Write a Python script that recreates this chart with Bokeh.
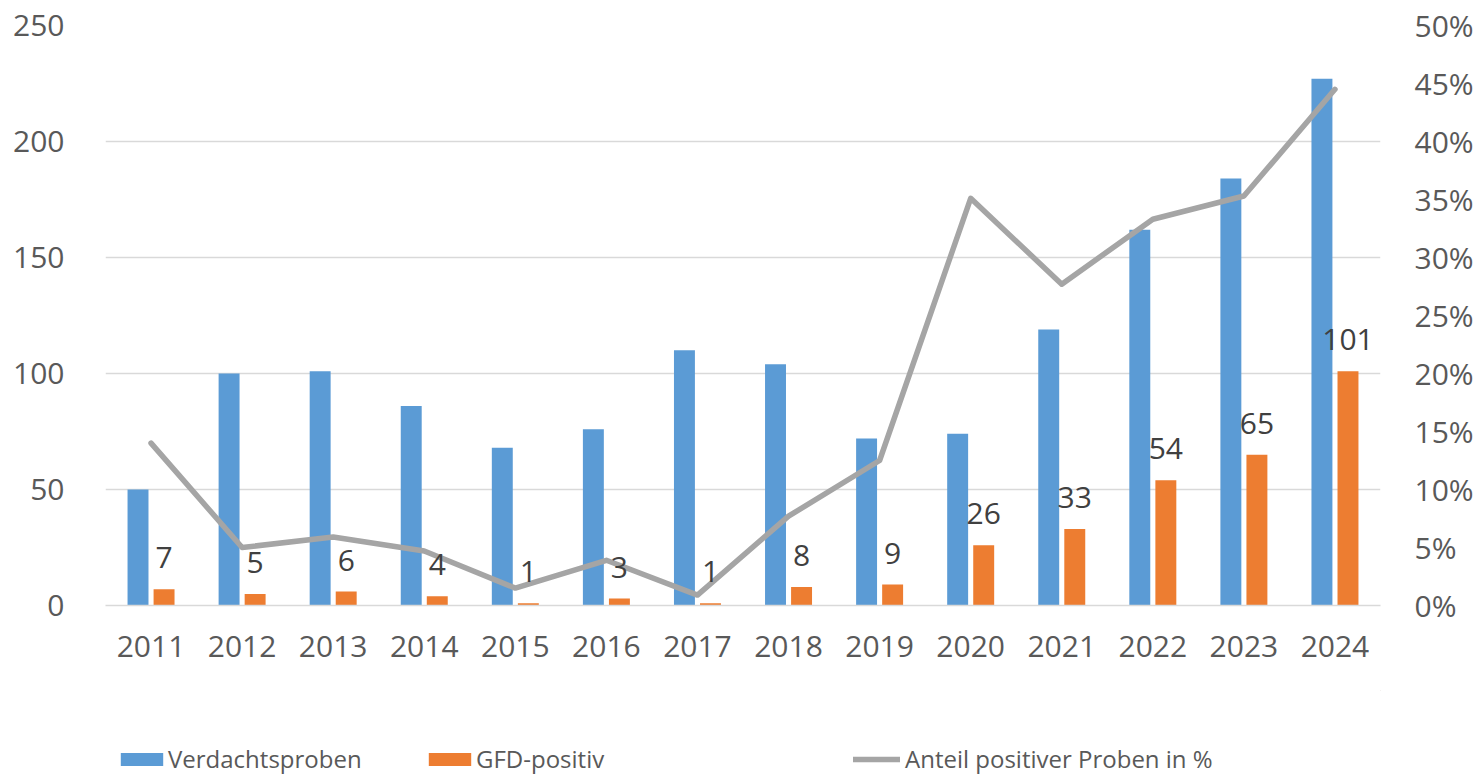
from bokeh.plotting import figure
from bokeh.models import (FactorRange, Range1d, LinearAxis, FixedTicker,
                          NumeralTickFormatter, Legend, LegendItem, ColumnDataSource,
                          LabelSet)
from bokeh.transform import dodge
from bokeh.layouts import column
from bokeh.embed import file_html
from bokeh.resources import INLINE
from bokeh.core.properties import value

# ---- data ----
years = ["2011", "2012", "2013", "2014", "2015", "2016", "2017",
         "2018", "2019", "2020", "2021", "2022", "2023", "2024"]
verdachtsproben = [50, 100, 101, 86, 68, 76, 110, 104, 72, 74, 119, 162, 184, 227]
gfd_positiv = [7, 5, 6, 4, 1, 3, 1, 8, 9, 26, 33, 54, 65, 101]
anteil_positiv = [0.140, 0.050, 0.059, 0.047, 0.015, 0.039, 0.009,
                  0.077, 0.125, 0.351, 0.277, 0.333, 0.353, 0.445]
left_ticks = [0, 50, 100, 150, 200, 250]
right_ticks = [0.0, 0.05, 0.10, 0.15, 0.20, 0.25, 0.30, 0.35, 0.40, 0.45, 0.50]
series_names = ["Verdachtsproben", "GFD-positiv", "Anteil positiver Proben in %"]

BLUE = "#5B9BD5"
ORANGE = "#ED7D31"
GREY = "#A5A5A5"
TEXT = "#595959"
GRID = "#D9D9D9"
FONT = "Open Sans"

W = 1480
LEFT = 105
RIGHT = W - 1380

src = ColumnDataSource(dict(
    year=years, v=verdachtsproben, g=gfd_positiv, pct=anteil_positiv,
    glab=[str(x) for x in gfd_positiv],
))

p = figure(width=W, height=690, x_range=FactorRange(factors=years),
           y_range=Range1d(0, 250), toolbar_location=None, output_backend="svg",
           min_border_left=LEFT, min_border_right=RIGHT, min_border_top=25,
           min_border_bottom=85)
p.extra_y_ranges = {"pct": Range1d(0, 0.5)}
p.outline_line_color = None
p.xgrid.grid_line_color = None
p.ygrid.grid_line_color = GRID
p.ygrid.grid_line_width = 1.5
p.ygrid.ticker = FixedTicker(ticks=left_ticks)

p.vbar(x=dodge("year", -0.143, range=p.x_range), top="v", width=0.23,
       source=src, color=BLUE, line_color=None)
p.vbar(x=dodge("year", 0.143, range=p.x_range), top="g", width=0.23,
       source=src, color=ORANGE, line_color=None)
p.line(x="year", y="pct", source=src, y_range_name="pct", line_color=GREY,
       line_width=5.5, line_join="round", line_cap="round")
labels = LabelSet(x=dodge("year", 0.143, range=p.x_range), y="g", text="glab",
                  source=src, text_align="center", text_baseline="alphabetic",
                  y_offset=21, text_font=value(FONT), text_font_size=value("30px"),
                  text_color=value("#404040"))
p.add_layout(labels)

# left axis
ya = p.yaxis[0]
ya.ticker = FixedTicker(ticks=left_ticks)
ya.axis_line_color = None
ya.major_tick_line_color = None
ya.minor_tick_line_color = None
ya.major_label_standoff = 35
ya.major_label_text_font = FONT
ya.major_label_text_font_size = "30px"
ya.major_label_text_color = TEXT

# right axis
ra = LinearAxis(y_range_name="pct", ticker=FixedTicker(ticks=right_ticks),
                formatter=NumeralTickFormatter(format="0%"))
ra.axis_line_color = None
ra.major_tick_line_color = None
ra.minor_tick_line_color = None
ra.major_label_standoff = 28
ra.major_label_text_font = FONT
ra.major_label_text_font_size = "30px"
ra.major_label_text_color = TEXT
p.add_layout(ra, "right")

# bottom axis
xa = p.xaxis[0]
xa.axis_line_color = GRID
xa.axis_line_width = 1.5
xa.major_tick_line_color = None
xa.minor_tick_line_color = None
xa.major_label_standoff = 24
xa.major_label_text_font = FONT
xa.major_label_text_font_size = "30px"
xa.major_label_text_color = TEXT

# ---- legend strip ----
leg = figure(width=W, height=86, x_range=Range1d(0, 1), y_range=Range1d(0, 1),
             toolbar_location=None, output_backend="svg",
             min_border_left=LEFT, min_border_right=RIGHT,
             min_border_top=0, min_border_bottom=0,
             x_axis_type=None, y_axis_type=None)
leg.outline_line_color = None
leg.grid.visible = False
# dummy glyphs placed outside the visible range; used only for legend swatches
r1 = leg.vbar(x=[5], top=[5], bottom=[4], width=0.1, color=BLUE, line_color=None)
r2 = leg.vbar(x=[5], top=[5], bottom=[4], width=0.1, color=ORANGE, line_color=None)
r3 = leg.line(x=[5, 6], y=[5, 5], line_color=GREY, line_width=5.5, line_cap="round")

def make_legend(label, r, x, gw, gh, standoff):
    lg = Legend(items=[LegendItem(label=label, renderers=[r])], location=(x, 1),
                orientation="horizontal", glyph_width=gw, glyph_height=gh,
                label_standoff=standoff, padding=0, margin=0, spacing=0,
                border_line_color=None, background_fill_alpha=0,
                label_text_font=FONT, label_text_font_size="24px",
                label_text_color=TEXT)
    leg.add_layout(lg)

make_legend(series_names[0], r1, 115 - LEFT, 53, 16, 0)
make_legend(series_names[1], r2, 423 - LEFT, 53, 16, 0)
make_legend(series_names[2], r3, 853 - LEFT, 47, 16, 5)

layout = column(p, leg, spacing=0)
open("out.html", "w").write(file_html(layout, INLINE))
